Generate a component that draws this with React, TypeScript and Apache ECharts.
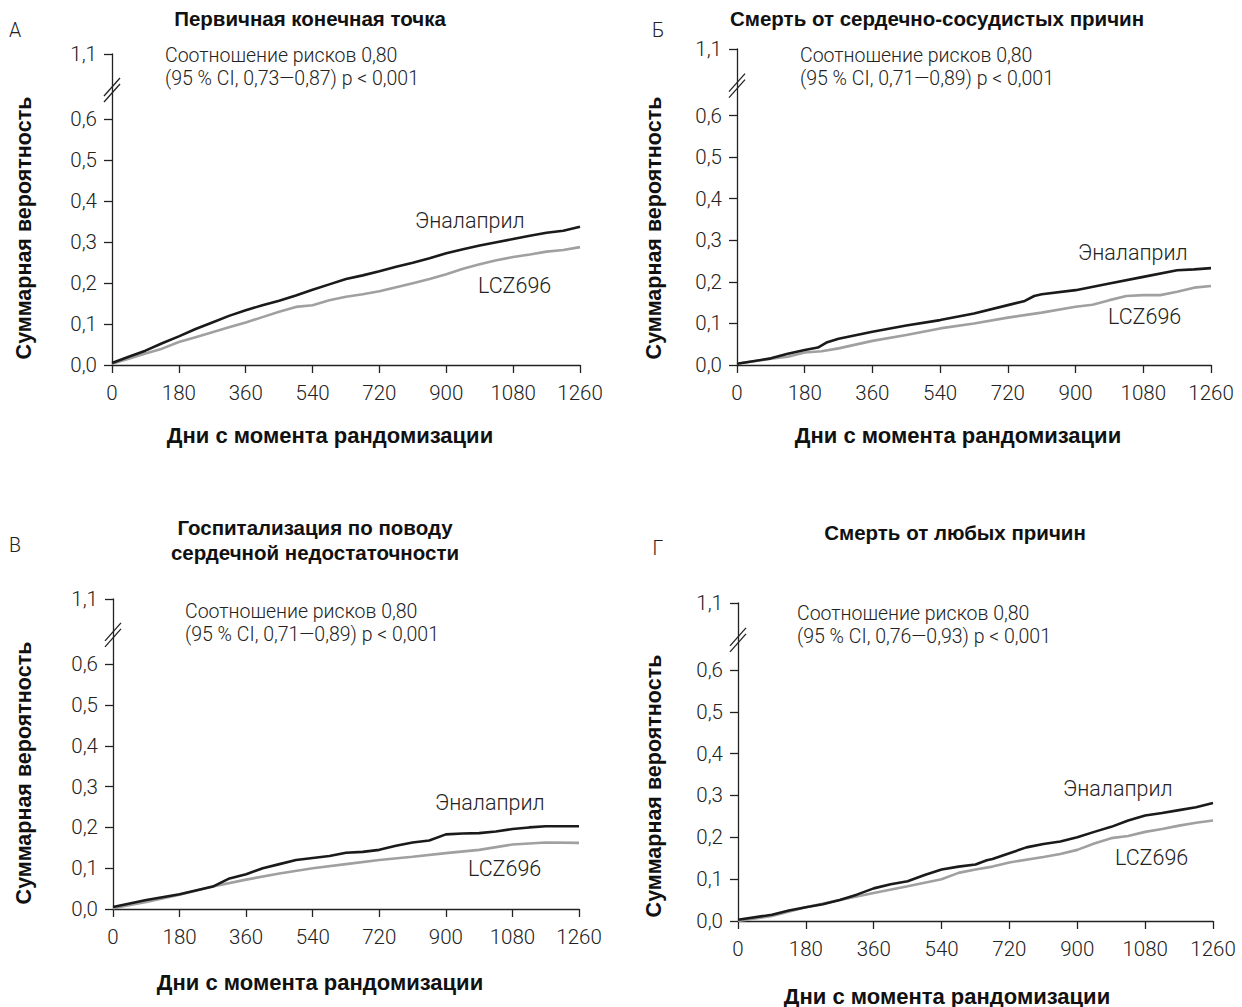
import React, { useEffect, useRef } from "react";
import * as echarts from "echarts";

// ---------- data ----------
const X_MAX = 1260;
const X_INTERVAL = 180;
const Y_TICKS = [0, 0.1, 0.2, 0.3, 0.4, 0.5, 0.6];
const Y_BREAK_VALUE = 0.76; // position where the "1,1" label sits after the axis break
const Y_BREAK_LABEL = "1,1";

const PANEL_LETTERS = ["А", "Б", "В", "Г"];
const PANEL_TITLES = [
  "Первичная конечная точка",
  "Смерть от сердечно-сосудистых причин",
  "Госпитализация по поводу\nсердечной недостаточности",
  "Смерть от любых причин",
];
const HR_TEXT = "Соотношение рисков 0,80";
const CI_TEXTS = [
  "(95 % CI, 0,73—0,87) p < 0,001",
  "(95 % CI, 0,71—0,89) p < 0,001",
  "(95 % CI, 0,71—0,89) p < 0,001",
  "(95 % CI, 0,76—0,93) p < 0,001",
];
const SERIES_NAMES = ["Эналаприл", "LCZ696"];
const Y_NAME = "Суммарная вероятность";
const X_NAME = "Дни с момента рандомизации";

// Panel A — primary endpoint
const A_DAYS = [0, 45, 90, 135, 180, 225, 270, 315, 360, 405, 450, 495, 540, 585, 630, 675, 720, 765, 810, 855, 900, 945, 990, 1035, 1080, 1125, 1170, 1215, 1260];
const A_ENAL = [0.005, 0.02, 0.035, 0.053, 0.07, 0.088, 0.104, 0.12, 0.134, 0.146, 0.157, 0.17, 0.184, 0.197, 0.21, 0.219, 0.229, 0.24, 0.25, 0.261, 0.273, 0.283, 0.292, 0.3, 0.308, 0.316, 0.323, 0.328, 0.338];
const A_LCZ = [0.003, 0.015, 0.028, 0.04, 0.056, 0.068, 0.08, 0.092, 0.104, 0.117, 0.13, 0.142, 0.146, 0.158, 0.167, 0.173, 0.18, 0.19, 0.2, 0.21, 0.222, 0.235, 0.246, 0.256, 0.264, 0.27, 0.277, 0.281, 0.288];

// Panel Б — cardiovascular death
const B_ENAL_DAYS = [0, 90, 135, 180, 215, 240, 270, 360, 450, 540, 630, 720, 765, 790, 810, 900, 990, 1080, 1170, 1215, 1260];
const B_ENAL = [0.003, 0.016, 0.027, 0.036, 0.042, 0.055, 0.063, 0.08, 0.095, 0.108, 0.124, 0.144, 0.154, 0.166, 0.17, 0.18, 0.196, 0.212, 0.228, 0.23, 0.233];
const B_LCZ_DAYS = [0, 90, 135, 180, 225, 270, 360, 450, 540, 630, 720, 810, 900, 945, 990, 1035, 1080, 1125, 1170, 1215, 1260];
const B_LCZ = [0.003, 0.015, 0.02, 0.03, 0.033, 0.04, 0.058, 0.072, 0.088, 0.1, 0.114, 0.126, 0.14, 0.145, 0.156, 0.166, 0.168, 0.168, 0.176, 0.186, 0.19];

// Panel В — heart-failure hospitalisation
const C_ENAL_DAYS = [0, 90, 180, 270, 315, 360, 405, 450, 495, 540, 585, 630, 675, 720, 765, 810, 855, 900, 945, 990, 1035, 1080, 1125, 1170, 1260];
const C_ENAL = [0.005, 0.022, 0.036, 0.055, 0.075, 0.085, 0.1, 0.11, 0.12, 0.125, 0.13, 0.138, 0.14, 0.145, 0.155, 0.163, 0.168, 0.183, 0.185, 0.186, 0.19, 0.196, 0.2, 0.203, 0.203];
const C_LCZ_DAYS = [0, 90, 180, 270, 360, 450, 540, 630, 720, 810, 900, 990, 1080, 1170, 1260];
const C_LCZ = [0.002, 0.017, 0.035, 0.055, 0.072, 0.087, 0.1, 0.11, 0.12, 0.128, 0.137, 0.145, 0.158, 0.163, 0.162];

// Panel Г — all-cause death
const D_ENAL_DAYS = [0, 90, 135, 180, 225, 270, 315, 360, 405, 450, 495, 540, 585, 630, 660, 675, 720, 765, 810, 855, 900, 945, 990, 1035, 1080, 1125, 1170, 1215, 1260];
const D_ENAL = [0.003, 0.015, 0.025, 0.033, 0.04, 0.05, 0.063, 0.078, 0.088, 0.095, 0.11, 0.123, 0.13, 0.135, 0.145, 0.148, 0.162, 0.176, 0.184, 0.19, 0.2, 0.213, 0.225, 0.24, 0.252, 0.258, 0.265, 0.272, 0.282];
const D_LCZ_DAYS = [0, 90, 180, 270, 360, 450, 540, 585, 630, 675, 720, 810, 855, 900, 945, 990, 1035, 1080, 1125, 1170, 1215, 1260];
const D_LCZ = [0.0, 0.012, 0.033, 0.05, 0.067, 0.083, 0.1, 0.115, 0.123, 0.13, 0.14, 0.153, 0.16, 0.17, 0.185, 0.198, 0.203, 0.213, 0.22, 0.228, 0.235, 0.24];

const PANELS = [
  { enal: [A_DAYS, A_ENAL], lcz: [A_DAYS, A_LCZ] },
  { enal: [B_ENAL_DAYS, B_ENAL], lcz: [B_LCZ_DAYS, B_LCZ] },
  { enal: [C_ENAL_DAYS, C_ENAL], lcz: [C_LCZ_DAYS, C_LCZ] },
  { enal: [D_ENAL_DAYS, D_ENAL], lcz: [D_LCZ_DAYS, D_LCZ] },
];

// ---------- layout ----------
const GRIDS = [
  { left: 112, top: 54, width: 468, height: 311 },
  { left: 737, top: 49, width: 474, height: 316 },
  { left: 113, top: 599, width: 466, height: 310 },
  { left: 738, top: 603, width: 475, height: 318 },
];
const LETTER_POS = [[15, 30], [658, 30], [15, 545], [658, 548]];
const TITLE_POS = [[310, 18], [937, 18], [315, 540], [955, 532]];
const HR_POS = [[165, 55], [800, 55], [185, 611], [797, 613]];
const HR_LINE_GAP = 23.5;
const ENAL_LABEL_POS = [[415, 220], [1078, 252], [435, 802], [1063, 788]];
const LCZ_LABEL_POS = [[478, 285], [1108, 316], [468, 868], [1115, 857]];
const YNAME_POS = [[24, 228], [654, 228], [24, 773], [654, 786]];
const XNAME_POS = [[330, 435], [958, 435], [320, 982], [947, 996]];

const LIGHT = "Roboto, sans-serif";
const LIGHT_W = 300;
const BOLD = "'Liberation Sans', Arial, sans-serif";
const TXT = "#222";
const BLACK_LINE = "#1a1a1a";
const GRAY_LINE = "#a0a0a0";

function zip(days: number[], vals: number[]) {
  return days.map((d, i) => [d, vals[i]]);
}

function fmtY(v: number) {
  if (Math.abs(v - Y_BREAK_VALUE) < 1e-6) return Y_BREAK_LABEL;
  return v.toFixed(1).replace(".", ",");
}

export default function App() {
  const ref = useRef<HTMLDivElement>(null);
  useEffect(() => {
    if (!ref.current) return;
    const chart = echarts.init(ref.current, undefined, { renderer: "svg" });
    const yCustom = [...Y_TICKS, Y_BREAK_VALUE];
    const noteFont = `${LIGHT_W} 19.5px ${LIGHT}`;
    const labelFont = `${LIGHT_W} 21.5px ${LIGHT}`;
    const TICK_SIZE = 20.5;

    const grid = GRIDS.map((g) => ({ ...g, containLabel: false }));
    const xAxis = GRIDS.map((_, i) => ({
      type: "value",
      gridIndex: i,
      min: 0,
      max: X_MAX,
      interval: X_INTERVAL,
      axisLine: { show: true, lineStyle: { color: "#222", width: 1.3 } },
      axisTick: { show: true, length: 8, lineStyle: { color: "#222", width: 1.3 } },
      axisLabel: {
        color: TXT, fontSize: TICK_SIZE, fontFamily: LIGHT, fontWeight: LIGHT_W, margin: 17,
        formatter: (v: number) => String(v),
      },
      splitLine: { show: false },
    }));
    const yAxis = GRIDS.map((_, i) => ({
      type: "value",
      gridIndex: i,
      min: 0,
      max: Y_BREAK_VALUE,
      axisLine: { show: true, lineStyle: { color: "#222", width: 1.3 } },
      axisTick: { show: true, length: 8, customValues: yCustom, lineStyle: { color: "#222", width: 1.3 } },
      axisLabel: {
        color: TXT,
        fontSize: TICK_SIZE,
        fontFamily: LIGHT,
        fontWeight: LIGHT_W,
        margin: 15,
        customValues: yCustom,
        formatter: (v: number) => fmtY(v),
      },
      splitLine: { show: false },
    }));

    const series: any[] = [];
    PANELS.forEach((p, i) => {
      series.push({
        type: "line",
        name: SERIES_NAMES[1],
        xAxisIndex: i,
        yAxisIndex: i,
        data: zip(p.lcz[0], p.lcz[1]),
        showSymbol: false,
        lineStyle: { color: GRAY_LINE, width: 2.6 },
        z: 2,
      });
      series.push({
        type: "line",
        name: SERIES_NAMES[0],
        xAxisIndex: i,
        yAxisIndex: i,
        data: zip(p.enal[0], p.enal[1]),
        showSymbol: false,
        lineStyle: { color: BLACK_LINE, width: 2.6 },
        z: 3,
      });
    });

    const graphic: any[] = [];
    GRIDS.forEach((g, i) => {
      graphic.push({
        type: "text", x: LETTER_POS[i][0], y: LETTER_POS[i][1],
        style: { text: PANEL_LETTERS[i], fill: TXT, font: noteFont, align: "center", verticalAlign: "middle" },
      });
      graphic.push({
        type: "text", x: TITLE_POS[i][0], y: TITLE_POS[i][1],
        style: { text: PANEL_TITLES[i], fill: "#111", font: `bold 20.5px ${BOLD}`, align: "center", verticalAlign: "middle", lineHeight: 25 },
      });
      graphic.push({
        type: "text", x: HR_POS[i][0], y: HR_POS[i][1],
        style: { text: HR_TEXT, fill: TXT, font: noteFont, align: "left", verticalAlign: "middle" },
      });
      graphic.push({
        type: "text", x: HR_POS[i][0], y: HR_POS[i][1] + HR_LINE_GAP,
        style: { text: CI_TEXTS[i], fill: TXT, font: noteFont, align: "left", verticalAlign: "middle" },
      });
      graphic.push({
        type: "text", x: ENAL_LABEL_POS[i][0], y: ENAL_LABEL_POS[i][1],
        style: { text: SERIES_NAMES[0], fill: TXT, font: labelFont, align: "left", verticalAlign: "middle" },
      });
      graphic.push({
        type: "text", x: LCZ_LABEL_POS[i][0], y: LCZ_LABEL_POS[i][1],
        style: { text: SERIES_NAMES[1], fill: TXT, font: labelFont, align: "left", verticalAlign: "middle" },
      });
      graphic.push({
        type: "text", x: YNAME_POS[i][0], y: YNAME_POS[i][1], rotation: Math.PI / 2,
        style: { text: Y_NAME, fill: "#111", font: `bold 21.5px ${BOLD}`, align: "center", verticalAlign: "middle" },
      });
      graphic.push({
        type: "text", x: XNAME_POS[i][0], y: XNAME_POS[i][1],
        style: { text: X_NAME, fill: "#111", font: `bold 22px ${BOLD}`, align: "center", verticalAlign: "middle" },
      });
      const yc = g.top + ((Y_BREAK_VALUE - 0.672) / Y_BREAK_VALUE) * g.height;
      [-3, 3].forEach((off) => {
        graphic.push({
          type: "line",
          shape: { x1: g.left - 8, y1: yc + off + 9, x2: g.left + 8, y2: yc + off - 9 },
          style: { stroke: "#222", lineWidth: 1.3 },
        });
      });
    });

    chart.setOption({
      animation: false,
      backgroundColor: "#fff",
      grid,
      xAxis,
      yAxis,
      series,
      graphic,
    });
    return () => chart.dispose();
  }, []);
  return (
    <div
      ref={ref}
      style={{ position: "absolute", left: 0, top: 0, width: 1242, height: 1007 }}
    />
  );
}
